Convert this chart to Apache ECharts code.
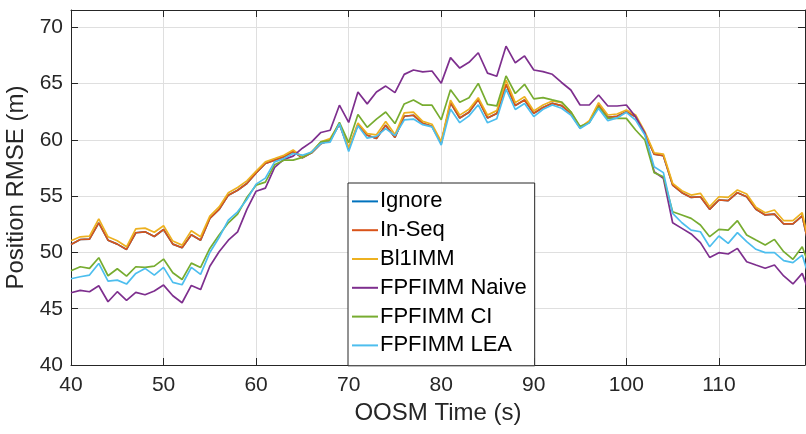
<!DOCTYPE html>
<html>
<head>
<meta charset="utf-8">
<script src="https://cdn.jsdelivr.net/npm/echarts@6/dist/echarts.min.js"></script>
<style>
  html, body { margin: 0; padding: 0; background: #ffffff; }
  #chart { width: 806px; height: 434px; }
</style>
</head>
<body>
<div id="chart"></div>
<script>
// OOSM time stamps (s), one sample per second
const times = [];
for (let t = 40; t <= 120; t++) times.push(t);

const seriesNames = ['Ignore', 'In-Seq', 'Bl1IMM', 'FPFIMM Naive', 'FPFIMM CI', 'FPFIMM LEA'];
const seriesColors = ['#0072BD', '#D95319', '#EDB120', '#7E2F8E', '#77AC30', '#4DBEEE'];

const xTicks = [40, 50, 60, 70, 80, 90, 100, 110];
const yTicks = [40, 45, 50, 55, 60, 65, 70];

// Position RMSE (m) per method
const ignore = [
  50.71, 51.15, 51.18, 52.63, 51.09, 50.74, 50.27, 51.75, 51.83, 51.42,
  52.04, 50.74, 50.41, 51.57, 51.09, 53.02, 53.82, 55.09, 55.53, 56.12,
  57.07, 57.90, 58.20, 58.49, 58.97, 58.42, 58.85, 59.67, 59.97, 61.40,
  59.20, 61.35, 60.41, 60.12, 61.30, 60.21, 62.10, 62.19, 61.47, 61.21,
  59.70, 63.30, 61.95, 62.45, 63.58, 61.95, 62.35, 64.94, 63.05, 63.54,
  62.36, 62.87, 63.25, 63.05, 62.35, 61.08, 61.60, 63.10, 62.00, 62.10,
  62.50, 62.05, 60.58, 58.74, 58.60, 55.99, 55.31, 54.89, 54.95, 53.83,
  54.66, 54.60, 55.31, 54.95, 53.83, 53.33, 53.41, 52.53, 52.53, 53.24,
  49.50
];
const inSeq = [
  50.71, 51.15, 51.18, 52.63, 51.09, 50.74, 50.27, 51.75, 51.83, 51.42,
  52.04, 50.74, 50.41, 51.57, 51.09, 53.02, 53.82, 55.09, 55.53, 56.12,
  57.07, 57.90, 58.20, 58.49, 58.97, 58.42, 58.85, 59.67, 59.97, 61.40,
  59.20, 61.35, 60.41, 60.12, 61.30, 60.21, 62.10, 62.19, 61.47, 61.21,
  59.70, 63.30, 61.95, 62.45, 63.58, 61.95, 62.35, 64.94, 63.05, 63.54,
  62.36, 62.87, 63.25, 63.05, 62.35, 61.08, 61.60, 63.10, 62.00, 62.10,
  62.50, 62.05, 60.58, 58.74, 58.60, 55.99, 55.31, 54.89, 54.95, 53.83,
  54.66, 54.60, 55.31, 54.95, 53.83, 53.33, 53.41, 52.53, 52.53, 53.24,
  49.50
];
const bl1imm = [
  51.04, 51.39, 51.45, 52.99, 51.39, 51.04, 50.50, 52.10, 52.16, 51.80,
  52.37, 51.01, 50.65, 51.92, 51.39, 53.22, 54.05, 55.30, 55.77, 56.36,
  57.22, 58.05, 58.34, 58.64, 59.10, 58.49, 58.93, 59.82, 60.12, 61.45,
  59.30, 61.50, 60.56, 60.45, 61.64, 60.48, 62.40, 62.47, 61.65, 61.39,
  59.84, 63.53, 62.20, 62.72, 63.75, 62.20, 62.60, 65.31, 63.31, 63.83,
  62.57, 63.10, 63.46, 63.30, 62.50, 61.11, 61.71, 63.30, 62.21, 62.30,
  62.65, 62.21, 60.73, 58.86, 58.74, 56.14, 55.49, 55.10, 55.25, 54.07,
  54.95, 54.89, 55.55, 55.19, 54.01, 53.53, 53.77, 52.82, 52.82, 53.53,
  49.80
];
const fpfNaive = [
  46.42, 46.63, 46.51, 47.04, 45.62, 46.51, 45.74, 46.45, 46.24, 46.57,
  47.10, 46.15, 45.53, 47.07, 46.70, 48.77, 50.06, 51.09, 51.83, 53.82,
  55.44, 55.71, 57.56, 58.27, 58.56, 59.26, 59.82, 60.66, 60.86, 63.08,
  61.55, 64.26, 63.20, 64.26, 64.78, 64.20, 65.82, 66.21, 66.04, 66.12,
  65.04, 67.31, 66.38, 66.89, 67.74, 65.93, 65.66, 68.33, 66.85, 67.46,
  66.21, 66.06, 65.83, 65.10, 64.43, 63.10, 63.10, 63.99, 63.01, 63.01,
  63.10, 62.06, 60.60, 57.17, 56.58, 52.64, 52.14, 51.64, 50.87, 49.56,
  49.98, 49.86, 50.36, 49.18, 48.88, 48.59, 48.88, 47.91, 47.20, 48.14,
  45.90
];
const fpfCI = [
  48.37, 48.73, 48.58, 49.53, 47.93, 48.55, 47.90, 48.73, 48.67, 48.79,
  49.41, 48.20, 47.60, 49.05, 48.67, 50.36, 51.54, 52.63, 53.40, 54.88,
  55.98, 56.25, 57.80, 58.20, 58.20, 58.45, 58.90, 59.82, 59.97, 61.55,
  59.75, 62.25, 61.12, 61.85, 62.48, 61.45, 63.19, 63.55, 63.08, 63.08,
  61.78, 64.45, 63.35, 63.75, 65.02, 63.16, 63.02, 65.68, 64.12, 64.94,
  63.64, 63.75, 63.55, 63.37, 62.50, 61.20, 61.53, 62.95, 61.91, 61.91,
  61.91, 60.88, 59.99, 57.09, 56.73, 53.62, 53.33, 53.03, 52.44, 51.40,
  52.05, 51.99, 52.82, 51.55, 51.10, 50.66, 51.16, 50.07, 49.39, 50.51,
  48.30
];
const fpfLEA = [
  47.66, 47.84, 47.99, 49.02, 47.46, 47.54, 47.19, 48.14, 48.58, 47.99,
  48.67, 47.34, 47.13, 48.67, 48.05, 50.00, 51.33, 52.87, 53.61, 54.70,
  56.07, 56.60, 58.05, 58.34, 58.79, 58.64, 58.93, 59.70, 59.80, 61.45,
  58.97, 61.25, 60.15, 60.32, 61.00, 60.38, 61.77, 61.85, 61.35, 61.15,
  59.54, 62.75, 61.53, 62.13, 63.12, 61.52, 61.87, 64.50, 62.70, 63.24,
  62.07, 62.72, 63.10, 62.81, 62.21, 61.02, 61.53, 62.80, 61.71, 61.95,
  62.45, 61.76, 60.43, 57.62, 57.09, 53.47, 52.64, 51.99, 51.84, 50.51,
  51.46, 50.81, 51.76, 50.96, 50.28, 49.98, 49.98, 49.27, 49.09, 49.77,
  47.10
];

const allValues = [ignore, inSeq, bl1imm, fpfNaive, fpfCI, fpfLEA];

const FONT = '"Liberation Sans", Arial, Helvetica, sans-serif';
const AXIS_COLOR = '#262626';
const GRID_COLOR = '#dfdfdf';

const X_MIN = xTicks[0], X_MAX = 119.3, X_STEP = xTicks[1] - xTicks[0];
const Y_MIN = yTicks[0], Y_MAX = 71.54, Y_STEP = yTicks[1] - yTicks[0];

const showTick = (list) => (v) => list.indexOf(Math.round(v * 1000) / 1000) >= 0 ? String(v) : '';

const chart = echarts.init(document.getElementById('chart'), null, { renderer: 'canvas' });

const series = seriesNames.map((name, i) => ({
  name: name,
  type: 'line',
  xAxisIndex: 0,
  yAxisIndex: 0,
  data: times.map((t, k) => [t, allValues[i][k]]),
  symbol: 'none',
  showSymbol: false,
  clip: true,
  lineStyle: { color: seriesColors[i], width: 1.7 },
  itemStyle: { color: seriesColors[i] },
  emphasis: { disabled: true },
  z: 3 + i
}));

chart.setOption({
  animation: false,
  backgroundColor: '#ffffff',
  textStyle: { fontFamily: FONT },
  grid: { left: 71, right: 1, top: 10, bottom: 69, containLabel: false, outerBoundsMode: 'none' },
  legend: {
    data: seriesNames,
    orient: 'vertical',
    left: 348,
    top: 183,
    width: 185,
    itemWidth: 26,
    itemHeight: 14,
    itemGap: 0,
    padding: [4, 8, 6, 4],
    backgroundColor: '#ffffff',
    borderColor: AXIS_COLOR,
    borderWidth: 1,
    borderRadius: 0,
    icon: 'path://M0,6 L26,6 L26,8 L0,8 Z',
    textStyle: { fontFamily: FONT, fontSize: 22, color: '#000000', lineHeight: 28.8, padding: [0, 0, 0, -3] },
    selectedMode: false
  },
  xAxis: [
    {
      type: 'value', position: 'bottom', min: X_MIN, max: X_MAX, interval: X_STEP,
      name: 'OOSM Time (s)', nameLocation: 'middle', nameGap: 36,
      nameTextStyle: { fontFamily: FONT, fontSize: 24, color: AXIS_COLOR },
      axisLine: { show: true, onZero: false, lineStyle: { color: AXIS_COLOR, width: 1 } },
      axisTick: { show: true, inside: true, length: 7, lineStyle: { color: AXIS_COLOR } },
      axisLabel: { show: true, fontFamily: FONT, fontSize: 21, color: AXIS_COLOR, margin: 10, formatter: showTick(xTicks), showMinLabel: true, showMaxLabel: true },
      splitLine: { show: true, lineStyle: { color: GRID_COLOR, width: 1 } }
    },
    {
      type: 'value', position: 'top', min: X_MIN, max: X_MAX, interval: X_STEP,
      axisLine: { show: true, onZero: false, lineStyle: { color: AXIS_COLOR, width: 1 } },
      axisTick: { show: true, inside: true, length: 7, lineStyle: { color: AXIS_COLOR } },
      axisLabel: { show: false },
      splitLine: { show: false }
    }
  ],
  yAxis: [
    {
      type: 'value', position: 'left', min: Y_MIN, max: Y_MAX, interval: Y_STEP,
      name: 'Position RMSE (m)', nameLocation: 'middle', nameGap: 32, nameRotate: 90,
      nameTextStyle: { fontFamily: FONT, fontSize: 24, color: AXIS_COLOR },
      axisLine: { show: true, onZero: false, lineStyle: { color: AXIS_COLOR, width: 1 } },
      axisTick: { show: true, inside: true, length: 7, lineStyle: { color: AXIS_COLOR } },
      axisLabel: { show: true, fontFamily: FONT, fontSize: 21, color: AXIS_COLOR, margin: 8, formatter: showTick(yTicks) },
      splitLine: { show: true, lineStyle: { color: GRID_COLOR, width: 1 } }
    },
    {
      type: 'value', position: 'right', min: Y_MIN, max: Y_MAX, interval: Y_STEP,
      axisLine: { show: true, onZero: false, lineStyle: { color: AXIS_COLOR, width: 1 } },
      axisTick: { show: true, inside: true, length: 7, lineStyle: { color: AXIS_COLOR } },
      axisLabel: { show: false },
      splitLine: { show: false }
    }
  ],
  series: series
});
</script>
</body>
</html>
